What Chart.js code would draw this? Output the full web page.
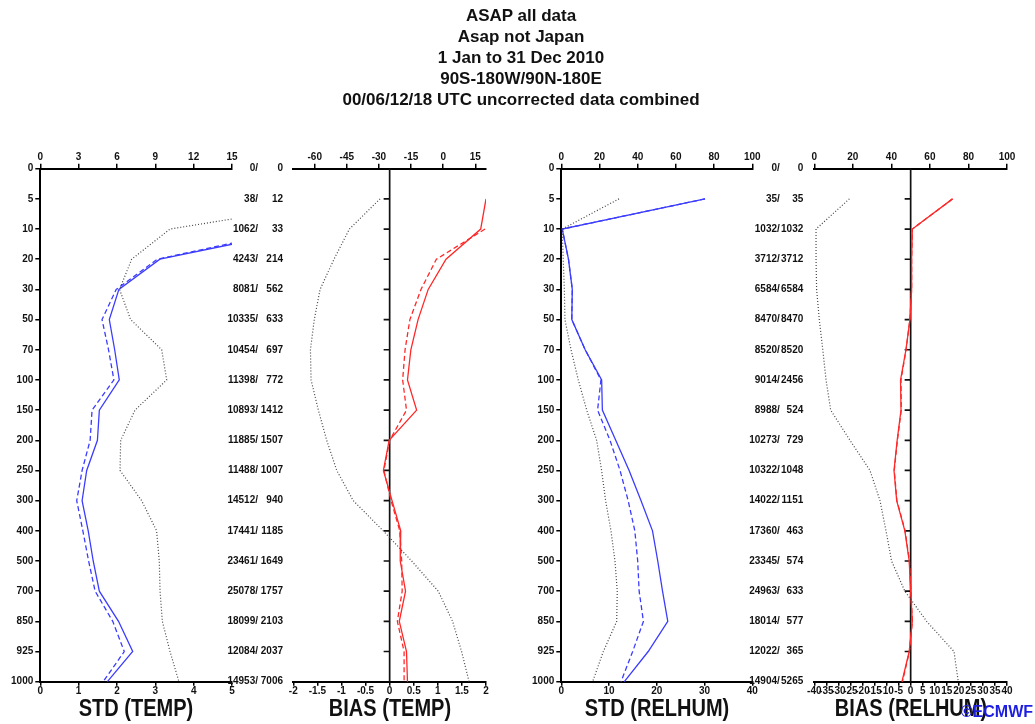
<!DOCTYPE html>
<html>
<head>
<meta charset="utf-8">
<title>ASAP all data</title>
<script src="https://cdn.jsdelivr.net/npm/chart.js@4"></script>
<style>
  html, body { margin: 0; background: #fff; }
  #page { position: relative; width: 1035px; height: 724px; overflow: hidden; }
  #page canvas { position: absolute; left: 0; top: 0; }
  .head { position: absolute; left: 221px; top: 5px; width: 600px; text-align: center;
          font: bold 17px/21px "Liberation Sans", Arial, sans-serif; color: #111; }
  .xt { position: absolute; top: 694px; width: 300px; text-align: center; color: #111;
        font: bold 23px/28px "Liberation Sans", Arial, sans-serif; transform: scaleX(0.87); }
  .logo { position: absolute; right: 2px; top: 702px; color: rgb(30,30,225);
          font: bold 16px/20px "Liberation Sans", Arial, sans-serif; }
</style>
</head>
<body>
<div id="page">
  <canvas id="c-tstd" width="1035" height="724"></canvas>
  <canvas id="c-tbias" width="1035" height="724"></canvas>
  <canvas id="c-rstd" width="1035" height="724"></canvas>
  <canvas id="c-rbias" width="1035" height="724"></canvas>
  <div class="head">ASAP all data<br>Asap not Japan<br>1 Jan to 31 Dec 2010<br>90S-180W/90N-180E<br>00/06/12/18 UTC uncorrected data combined</div>
  <div class="xt" style="left:-14px">STD (TEMP)</div>
  <div class="xt" style="left:240px">BIAS (TEMP)</div>
  <div class="xt" style="left:507px">STD (RELHUM)</div>
  <div class="xt" style="left:761px">BIAS (RELHUM)</div>
  <div class="logo">©ECMWF</div>
</div>
<script>
"use strict";

/* pressure levels (hPa), top to bottom */
const LEVELS = ["0", "5", "10", "20", "30", "50", "70", "100", "150", "200", "250", "300", "400", "500", "700", "850", "925", "1000"];

/* observation counts: all / used */
const TEMP_N_ALL  = [0, 38, 1062, 4243, 8081, 10335, 10454, 11398, 10893, 11885, 11488, 14512, 17441, 23461, 25078, 18099, 12084, 14953];
const TEMP_N_USED = [0, 12, 33, 214, 562, 633, 697, 772, 1412, 1507, 1007, 940, 1185, 1649, 1757, 2103, 2037, 7006];
const RH_N_ALL    = [0, 35, 1032, 3712, 6584, 8470, 8520, 9014, 8988, 10273, 10322, 14022, 17360, 23345, 24963, 18014, 12022, 14904];
const RH_N_USED   = [0, 35, 1032, 3712, 6584, 8470, 8520, 2456, 524, 729, 1048, 1151, 463, 574, 633, 577, 365, 5265];

/* temperature std dev: first guess (solid), analysis (dashed), dotted on top axis */
const TEMP_STD_FG  = [null, null, 6.9, 3.12, 2.05, 1.80, 1.94, 2.06, 1.54, 1.49, 1.21, 1.09, 1.25, 1.38, 1.54, 2.04, 2.41, 1.75];
const TEMP_STD_AN  = [null, null, 6.7, 3.05, 1.98, 1.61, 1.78, 1.92, 1.35, 1.30, 1.09, 0.95, 1.11, 1.26, 1.43, 1.89, 2.19, 1.64];
const TEMP_STD_DOT = [null, 24.7, 10.15, 7.15, 6.2, 7.07, 9.5, 9.89, 7.41, 6.29, 6.24, 7.93, 9.1, 9.31, 9.37, 9.55, 10.15, 10.85];

/* temperature bias */
const TEMP_BIAS_FG  = [null, 2.0, 1.89, 1.17, 0.80, 0.59, 0.44, 0.37, 0.56, -0.01, -0.13, 0.05, 0.23, 0.22, 0.33, 0.20, 0.35, 0.37];
const TEMP_BIAS_AN  = [null, null, 1.98, 0.97, 0.65, 0.42, 0.32, 0.27, 0.35, 0.0, -0.12, 0.03, 0.21, 0.25, 0.26, 0.16, 0.30, 0.30];
const TEMP_BIAS_DOT = [null, -29.5, -43.8, -51, -57.5, -60.2, -62.0, -61.7, -58.3, -54.4, -49.7, -42.0, -28.0, -14.7, -2.3, 4.4, 8.6, 12.1];

/* relative humidity std dev */
const RH_STD_FG  = [null, 30.1, 0.2, 1.5, 2.3, 2.2, 5.0, 8.45, 8.6, 11.4, 14.2, 16.7, 19.1, 20.2, 21.2, 22.3, 18.2, 13.2];
const RH_STD_AN  = [null, 30.1, 0.2, 1.5, 2.3, 2.2, 5.0, 8.3, 7.6, 10.2, 12.3, 14.0, 15.4, 16.0, 16.3, 17.2, 14.95, 12.5];
const RH_STD_DOT = [null, 30.2, 0.5, 1.0, 1.6, 1.9, 5.1, 8.9, 13.3, 18.5, 21.1, 23.2, 26.0, 28.1, 29.3, 29.0, 22.0, 16.4];

/* relative humidity bias */
const RH_BIAS_FG  = [null, 17.4, 0.7, 0.4, 0.4, -0.3, -1.95, -4.2, -4.0, -5.6, -6.9, -5.8, -2.4, -0.6, 0.0, 0.7, -0.6, -3.6];
const RH_BIAS_AN  = [null, 17.4, 0.7, 0.4, 0.4, -0.3, -1.9, -4.0, -3.9, -5.5, -6.8, -5.7, -2.3, -0.5, 0.1, 0.7, -0.5, -3.4];
const RH_BIAS_DOT = [null, 18.2, 0.9, 0.9, 1.2, 2.6, 4.4, 6.1, 8.5, 18.5, 28.9, 34.1, 37.2, 40.1, 47.0, 58.3, 72.5, 74.7];

/* tick labels */
const TEMP_STD_TICKS  = [0, 1, 2, 3, 4, 5];
const TEMP_STD_TOP    = [0, 3, 6, 9, 12, 15];
const TEMP_BIAS_TICKS = [-2, -1.5, -1, -0.5, 0, 0.5, 1, 1.5, 2];
const TEMP_BIAS_TOP   = [-60, -45, -30, -15, 0, 15];
const RH_STD_TICKS    = [0, 10, 20, 30, 40];
const RH_STD_TOP      = [0, 20, 40, 60, 80, 100];
const RH_BIAS_TICKS   = [-40, -35, -30, -25, -20, -15, -10, -5, 0, 5, 10, 15, 20, 25, 30, 35, 40];
const RH_BIAS_TOP     = [0, 20, 40, 60, 80, 100];

const FONT = '"Liberation Sans", Arial, sans-serif';
const BLUE = "rgb(60,60,255)";
const RED = "rgb(255,40,40)";
const DOT = "#444";
const W = 1035, H = 724;
const TOP = 168.7, BOTTOM = 681.7;   // plot area top / bottom
const AX_H = 20, Y_W = 40;           // fixed axis box sizes

Chart.defaults.font.family = FONT;
Chart.defaults.font.size = 10;
Chart.defaults.font.weight = "bold";
Chart.defaults.color = "#111";

function mk(id, config) {
  const el = document.getElementById(id);
  config.options.responsive = false;
  config.options.animation = false;
  return new Chart(el, config);
}

function xAxis(pos, min, max, ticks) {
  return {
    type: "linear", position: pos, min, max,
    afterBuildTicks: (s) => { s.ticks = ticks.map(v => ({ value: v })); },
    afterFit: (s) => { s.height = AX_H; },
    border: { display: true, color: "#000", width: 2 },
    grid: { drawOnChartArea: false, tickLength: pos === "top" ? 5 : 4, color: "#000", lineWidth: 1.5 },
    ticks: { padding: 0, maxRotation: 0, minRotation: 0, autoSkip: false,
             callback: (v) => String(v) },
  };
}

function levelAxis(show) {
  return {
    type: "category", position: "left", display: show, offset: false,
    afterFit: (s) => { s.width = show ? Y_W : 0; },
    border: { display: true, color: "#000", width: 2 },
    grid: { drawOnChartArea: false, tickLength: 5, color: "#000", lineWidth: 1.5 },
    ticks: { padding: 2, autoSkip: false },
  };
}

function series(data, axis, color, dash) {
  return { data, xAxisID: axis, borderColor: color, borderWidth: dash.length === 2 && dash[0] < 2 ? 1.2 : 1.3,
           borderDash: dash, pointRadius: 0, fill: false, tension: 0 };
}

/* "all/ used" counts to the right of a std panel */
function countLabels(all, used, slashAt) {
  return {
    id: "counts",
    afterDraw(chart) {
      const { ctx, chartArea, scales } = chart;
      ctx.save();
      ctx.font = "bold 10px " + FONT;
      ctx.fillStyle = "#111";
      ctx.textAlign = "right";
      ctx.textBaseline = "middle";
      LEVELS.forEach((lv, i) => {
        const y = scales.y.getPixelForValue(i);
        ctx.fillText(all[i] + "/", chartArea.right + slashAt, y);
        ctx.fillText(String(used[i]), chartArea.right + 51, y);
      });
      ctx.restore();
    },
  };
}

/* vertical zero line with level ticks in the bias panels */
const zeroAxis = {
  id: "zeroAxis",
  beforeDatasetsDraw(chart) {
    const { ctx, chartArea, scales } = chart;
    const x = scales.x.getPixelForValue(0);
    ctx.save();
    ctx.strokeStyle = "#111";
    ctx.lineWidth = 1.7;
    ctx.beginPath();
    ctx.moveTo(x, chartArea.top);
    ctx.lineTo(x, chartArea.bottom);
    for (let i = 1; i < LEVELS.length - 1; i++) {
      const y = scales.y.getPixelForValue(i);
      ctx.moveTo(x - 6, y);
      ctx.lineTo(x, y);
    }
    ctx.stroke();
    ctx.restore();
  },
};

function panel(id, p) {
  const plugins = [];
  if (p.counts) plugins.push(countLabels(p.counts[0], p.counts[1], p.slashAt));
  if (p.zero) plugins.push(zeroAxis);
  mk(id, {
    type: "line",
    data: {
      labels: LEVELS,
      datasets: [
        series(p.dot, "xt", DOT, [1, 2]),
        series(p.an, "x", p.color, [5, 3]),
        series(p.fg, "x", p.color, []),
      ],
    },
    options: {
      indexAxis: "y",
      layout: { padding: { left: p.x0 - (p.zero ? 0 : Y_W), right: W - p.x1,
                           top: TOP - AX_H, bottom: H - BOTTOM - AX_H } },
      scales: {
        x: xAxis("bottom", p.min, p.max, p.ticks),
        xt: xAxis("top", p.topMin, p.topMax, p.topTicks),
        y: levelAxis(!p.zero),
      },
      plugins: { legend: { display: false }, tooltip: { enabled: false } },
    },
    plugins,
  });
}

panel("c-tstd", { x0: 40.3, x1: 232, min: 0, max: 5, ticks: TEMP_STD_TICKS,
  topMin: 0, topMax: 15, topTicks: TEMP_STD_TOP, color: BLUE, slashAt: 26,
  fg: TEMP_STD_FG, an: TEMP_STD_AN, dot: TEMP_STD_DOT, counts: [TEMP_N_ALL, TEMP_N_USED] });

panel("c-tbias", { x0: 293.3, x1: 486, min: -2, max: 2, ticks: TEMP_BIAS_TICKS,
  topMin: -70, topMax: 20, topTicks: TEMP_BIAS_TOP, color: RED, zero: true,
  fg: TEMP_BIAS_FG, an: TEMP_BIAS_AN, dot: TEMP_BIAS_DOT });

panel("c-rstd", { x0: 561.3, x1: 752.3, min: 0, max: 40, ticks: RH_STD_TICKS,
  topMin: 0, topMax: 100, topTicks: RH_STD_TOP, color: BLUE, slashAt: 27.5,
  fg: RH_STD_FG, an: RH_STD_AN, dot: RH_STD_DOT, counts: [RH_N_ALL, RH_N_USED] });

panel("c-rbias", { x0: 814.3, x1: 1007, min: -40, max: 40, ticks: RH_BIAS_TICKS,
  topMin: 0, topMax: 100, topTicks: RH_BIAS_TOP, color: RED, zero: true,
  fg: RH_BIAS_FG, an: RH_BIAS_AN, dot: RH_BIAS_DOT });
</script>
</body>
</html>
